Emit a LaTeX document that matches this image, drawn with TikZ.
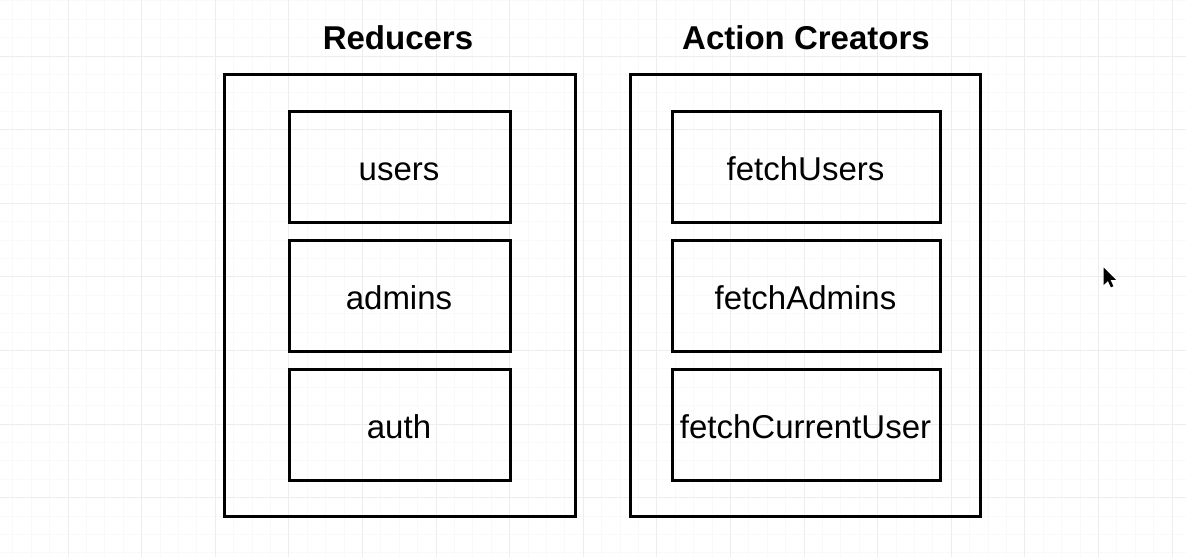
\documentclass[tikz,border=0pt]{standalone}
\usepackage{fontspec}
\setmainfont{Liberation Sans}
\definecolor{gridmajor}{HTML}{EDEDED}
\definecolor{gridminor}{HTML}{F9F9F9}
\tikzset{
  outerbox/.style={draw=black, line width=3pt},
  innerbox/.style={draw=black, line width=3pt},
  titletext/.style={font=\fontsize{33}{37}\selectfont\bfseries, anchor=base},
  itemtext/.style={font=\fontsize{33}{37}\selectfont, anchor=base},
}
\begin{document}
\begin{tikzpicture}[x=1pt,y=-1pt]
\useasboundingbox (0,0) rectangle (1186,557);
\fill[white] (0,0) rectangle (1186,557);
% grid
\foreach \i in {0,...,65} {
  \draw[gridminor, line width=0.8pt] ({-5.6+18.4*\i},0) -- ({-5.6+18.4*\i},557);
}
\foreach \i in {0,...,32} {
  \draw[gridminor, line width=0.8pt] (0,{-17.6+18.4*\i}) -- (1186,{-17.6+18.4*\i});
}
\foreach \i in {0,...,17} {
  \draw[gridmajor, line width=1pt] ({-5.6+73.6*\i},0) -- ({-5.6+73.6*\i},557);
}
\foreach \i in {0,...,8} {
  \draw[gridmajor, line width=1pt] (0,{-17.6+73.6*\i}) -- (1186,{-17.6+73.6*\i});
}
% titles
\node[titletext] (tred) at (398,49.5) {Reducers};
\node[titletext] (tact) at (806,49.5) {Action Creators};
% outer boxes
\draw[outerbox] (224.5,74.5) rectangle (575,516.5);
\coordinate (redbox) at (399.75,295.5);
\draw[outerbox] (630.5,74.5) rectangle (980.5,516.5);
\coordinate (actbox) at (805.5,295.5);
% reducer items
\draw[innerbox] (289,111.5) rectangle (510,222);
\draw[innerbox] (289,240.5) rectangle (510,351);
\draw[innerbox] (289,369.5) rectangle (510,480);
\node[itemtext] (users) at (399,180) {users};
\node[itemtext] (admins) at (399,309) {admins};
\node[itemtext] (auth) at (399,438) {auth};
% action creator items
\draw[innerbox] (672,111.5) rectangle (940,222);
\draw[innerbox] (672,240.5) rectangle (940,351);
\draw[innerbox] (672,369.5) rectangle (940,480);
\node[itemtext] (fu) at (805.5,180) {fetchUsers};
\node[itemtext] (fa) at (805.5,309) {fetchAdmins};
\node[itemtext] (fc) at (805.5,438) {fetchCurrentUser};
% mouse cursor
\fill[black, shift={(1103.5,267.5)}, scale=1.1]
  (0,0) -- (0,16) -- (4,12.3) -- (6.8,18) -- (9,17) -- (6.3,11.3) -- (11.3,11.3) -- cycle;
\end{tikzpicture}
\end{document}
